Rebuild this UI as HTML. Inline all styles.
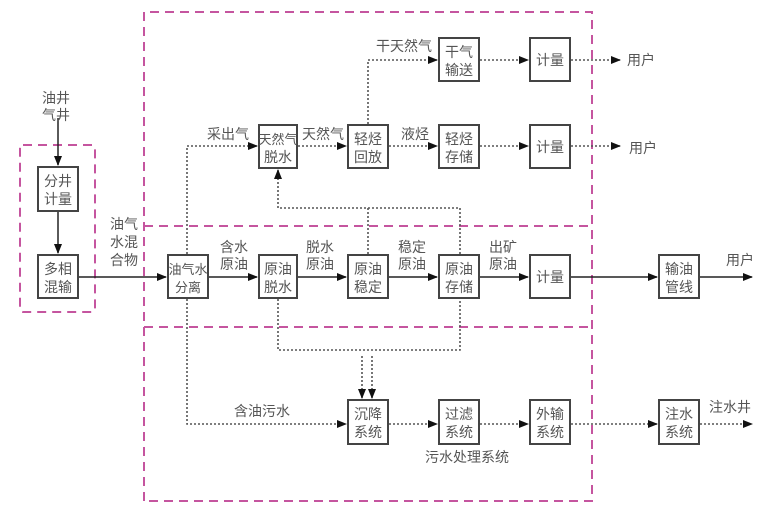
<!DOCTYPE html>
<html><head><meta charset="utf-8"><style>
html,body{margin:0;padding:0;background:#fff;}
svg{display:block;}
text{font-family:"Liberation Sans","Noto Sans CJK SC",sans-serif;font-size:14px;fill:#555;}
.b{fill:#fff;stroke:#444;stroke-width:2;}
.d{fill:none;stroke:#c5559f;stroke-width:2;stroke-dasharray:9,6;}
.s{fill:none;stroke:#222;stroke-width:1.5;}
.p{fill:none;stroke:#555;stroke-width:1.6;stroke-dasharray:2,2;}
</style></head><body>
<svg width="776" height="526" viewBox="0 0 776 526" xmlns="http://www.w3.org/2000/svg">
<defs>
<marker id="a" markerWidth="10" markerHeight="8" refX="9" refY="4" orient="auto" markerUnits="userSpaceOnUse"><path d="M0,0 L10,4 L0,8 Z" fill="#111"/></marker>
</defs>
<!-- dashed regions -->
<rect class="d" x="20" y="145" width="75" height="167" rx="3"/>
<path class="d" d="M144,501 V12 H592 V501 H144 M144,226 H592 M144,327 H592"/>

<!-- solid lines -->
<path class="s" d="M58,118 V165" marker-end="url(#a)"/>
<path class="s" d="M58,211 V253" marker-end="url(#a)"/>
<path class="s" d="M79,277 H166" marker-end="url(#a)"/>
<path class="s" d="M209,277 H257" marker-end="url(#a)"/>
<path class="s" d="M298,277 H346" marker-end="url(#a)"/>
<path class="s" d="M389,277 H437" marker-end="url(#a)"/>
<path class="s" d="M480,277 H528" marker-end="url(#a)"/>
<path class="s" d="M571,277 H657" marker-end="url(#a)"/>
<path class="s" d="M700,277 H752" marker-end="url(#a)"/>

<!-- dotted lines -->
<path class="p" d="M187,254 V146 H257" marker-end="url(#a)"/>
<path class="p" d="M298,146 H346" marker-end="url(#a)"/>
<path class="p" d="M389,146 H437" marker-end="url(#a)"/>
<path class="p" d="M480,146 H528" marker-end="url(#a)"/>
<path class="p" d="M571,146 H620" marker-end="url(#a)"/>
<path class="p" d="M368,124 V60 H437" marker-end="url(#a)"/>
<path class="p" d="M480,60 H528" marker-end="url(#a)"/>
<path class="p" d="M571,60 H620" marker-end="url(#a)"/>
<path class="p" d="M368,254 V208 M460,254 V208 H278 V170" marker-end="url(#a)"/>
<path class="p" d="M278,299 V350 H460 V299"/>
<path class="p" d="M362,356 V398" marker-end="url(#a)"/>
<path class="p" d="M372,356 V398" marker-end="url(#a)"/>
<path class="p" d="M187,299 V424 H346" marker-end="url(#a)"/>
<path class="p" d="M389,424 H437" marker-end="url(#a)"/>
<path class="p" d="M480,424 H528" marker-end="url(#a)"/>
<path class="p" d="M571,424 H657" marker-end="url(#a)"/>
<path class="p" d="M700,424 H752" marker-end="url(#a)"/>

<!-- boxes -->
<g>
<rect class="b" x="38" y="167" width="40" height="44"/><text x="58" y="186" text-anchor="middle">分井</text><text x="58" y="204" text-anchor="middle">计量</text>
<rect class="b" x="38" y="255" width="40" height="43"/><text x="58" y="274" text-anchor="middle">多相</text><text x="58" y="292" text-anchor="middle">混输</text>
<rect class="b" x="168" y="255" width="40" height="43"/><text x="188" y="274" text-anchor="middle" style="font-size:13px">油气水</text><text x="188" y="292" text-anchor="middle" style="font-size:13px">分离</text>
<rect class="b" x="259" y="255" width="38" height="43"/><text x="278" y="274" text-anchor="middle">原油</text><text x="278" y="292" text-anchor="middle">脱水</text>
<rect class="b" x="348" y="255" width="40" height="43"/><text x="368" y="274" text-anchor="middle">原油</text><text x="368" y="292" text-anchor="middle">稳定</text>
<rect class="b" x="439" y="255" width="40" height="43"/><text x="459" y="274" text-anchor="middle">原油</text><text x="459" y="292" text-anchor="middle">存储</text>
<rect class="b" x="530" y="255" width="40" height="43"/><text x="550" y="282" text-anchor="middle">计量</text>
<rect class="b" x="659" y="255" width="40" height="43"/><text x="679" y="274" text-anchor="middle">输油</text><text x="679" y="292" text-anchor="middle">管线</text>

<rect class="b" x="259" y="125" width="38" height="43"/><text x="278" y="144" text-anchor="middle" style="font-size:13px">天然气</text><text x="278" y="162" text-anchor="middle">脱水</text>
<rect class="b" x="348" y="125" width="40" height="43"/><text x="368" y="144" text-anchor="middle">轻烃</text><text x="368" y="162" text-anchor="middle">回放</text>
<rect class="b" x="439" y="125" width="40" height="43"/><text x="459" y="144" text-anchor="middle">轻烃</text><text x="459" y="162" text-anchor="middle">存储</text>
<rect class="b" x="530" y="125" width="40" height="43"/><text x="550" y="152" text-anchor="middle">计量</text>
<rect class="b" x="439" y="38" width="40" height="43"/><text x="459" y="57" text-anchor="middle">干气</text><text x="459" y="75" text-anchor="middle">输送</text>
<rect class="b" x="530" y="38" width="40" height="43"/><text x="550" y="65" text-anchor="middle">计量</text>

<rect class="b" x="348" y="400" width="40" height="44"/><text x="368" y="419" text-anchor="middle">沉降</text><text x="368" y="437" text-anchor="middle">系统</text>
<rect class="b" x="439" y="400" width="40" height="44"/><text x="459" y="419" text-anchor="middle">过滤</text><text x="459" y="437" text-anchor="middle">系统</text>
<rect class="b" x="530" y="400" width="40" height="44"/><text x="550" y="419" text-anchor="middle">外输</text><text x="550" y="437" text-anchor="middle">系统</text>
<rect class="b" x="659" y="400" width="40" height="44"/><text x="679" y="419" text-anchor="middle">注水</text><text x="679" y="437" text-anchor="middle">系统</text>
</g>

<!-- labels -->
<text x="56" y="103" text-anchor="middle">油井</text>
<text x="56" y="120" text-anchor="middle">气井</text>
<text x="124" y="229" text-anchor="middle">油气</text>
<text x="124" y="247" text-anchor="middle">水混</text>
<text x="124" y="265" text-anchor="middle">合物</text>
<text x="234" y="252" text-anchor="middle">含水</text>
<text x="234" y="269" text-anchor="middle">原油</text>
<text x="320" y="252" text-anchor="middle">脱水</text>
<text x="320" y="269" text-anchor="middle">原油</text>
<text x="412" y="252" text-anchor="middle">稳定</text>
<text x="412" y="269" text-anchor="middle">原油</text>
<text x="503" y="252" text-anchor="middle">出矿</text>
<text x="503" y="269" text-anchor="middle">原油</text>
<text x="740" y="265" text-anchor="middle">用户</text>
<text x="228" y="139" text-anchor="middle">采出气</text>
<text x="323" y="139" text-anchor="middle">天然气</text>
<text x="415" y="139" text-anchor="middle">液烃</text>
<text x="404" y="51" text-anchor="middle">干天然气</text>
<text x="641" y="65" text-anchor="middle">用户</text>
<text x="643" y="153" text-anchor="middle">用户</text>
<text x="262" y="416" text-anchor="middle">含油污水</text>
<text x="467" y="462" text-anchor="middle">污水处理系统</text>
<text x="730" y="412" text-anchor="middle">注水井</text>
</svg>
</body></html>
